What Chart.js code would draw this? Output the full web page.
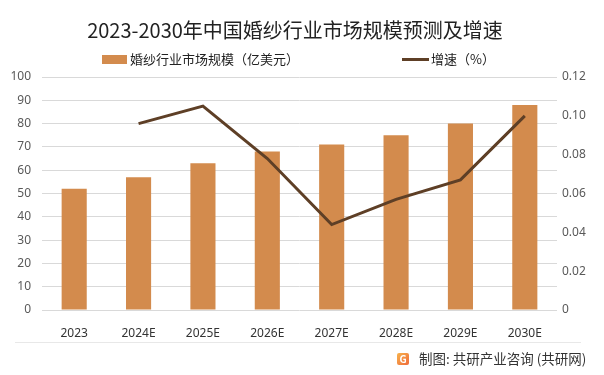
<!DOCTYPE html>
<html>
<head>
<meta charset="utf-8">
<script src="https://cdn.jsdelivr.net/npm/chart.js@4.4.1/dist/chart.umd.min.js"></script>
<style>
  html, body { margin: 0; padding: 0; background: #fff; }
  #wrap { position: relative; width: 604px; height: 375px; overflow: hidden;
          font-family: "Noto Sans CJK SC", "Noto Sans", sans-serif; }
  #chart { position: absolute; left: 0; top: 0; }
  .title { position: absolute; left: 0; width: 590px; top: 16px; text-align: center;
           font-size: 20px; color: #222; line-height: 28px; }
  .legend { position: absolute; top: 50px; font-size: 13px; color: #222; line-height: 18px;
            white-space: nowrap; }
  .legend span.box { display: inline-block; width: 25px; height: 9px; background: #D38B4D;
                     vertical-align: middle; margin-right: 3px; position: relative; top: -1px; }
  .legend span.ln { display: inline-block; width: 27px; height: 3px; background: #5E3F26;
                    vertical-align: middle; margin-right: 2px; position: relative; top: -1px; }
  .rule { position: absolute; left: 15px; width: 566px; top: 342px; height: 1px; background: #e8e8e8; }
  .foot { position: absolute; left: 397px; top: 348px; font-size: 13.5px; color: #333;
          line-height: 20px; white-space: nowrap; }
  .foot .ico { display: inline-block; width: 12px; height: 12px; border-radius: 2px;
               background: linear-gradient(135deg, #f7b34d, #ef6a3a); color: #fff;
               font-size: 10px; line-height: 12px; text-align: center; font-weight: bold;
               vertical-align: middle; margin-right: 10px; position: relative; top: -1px; }
</style>
</head>
<body>
<div id="wrap">
  <canvas id="chart" width="604" height="375"></canvas>
  <div class="title">2023-2030年中国婚纱行业市场规模预测及增速</div>
  <div class="legend" style="left:102px"><span class="box"></span>婚纱行业市场规模（亿美元）</div>
  <div class="legend" style="left:402px"><span class="ln"></span>增速（%）</div>
  <div class="rule"></div>
  <div class="foot"><span class="ico">G</span>制图: 共研产业咨询 (共研网)</div>
</div>
<script>
var years = ["2023", "2024E", "2025E", "2026E", "2027E", "2028E", "2029E", "2030E"];
var marketSize = [52, 57, 63, 68, 71, 75, 80, 88];
var growth = [null, 0.096, 0.105, 0.078, 0.044, 0.057, 0.067, 0.1];

var tickFont = { family: "'Noto Sans', sans-serif", size: 12 };

var ctx = document.getElementById("chart");

new Chart(ctx, {
  type: "bar",
  data: {
    labels: years,
    datasets: [
      {
        type: "line",
        label: "增速（%）",
        data: growth,
        yAxisID: "y1",
        borderColor: "#5E3F26",
        borderWidth: 3,
        pointRadius: 0,
        tension: 0,
        order: 0
      },
      {
        label: "婚纱行业市场规模（亿美元）",
        data: marketSize,
        yAxisID: "y",
        backgroundColor: "#D38B4D",
        categoryPercentage: 1,
        barPercentage: 0.39,
        order: 1
      }
    ]
  },
  options: {
    responsive: false,
    animation: false,
    layout: { padding: { top: 77, bottom: 35, left: 0, right: 0 } },
    plugins: {
      legend: { display: false },
      tooltip: { enabled: false }
    },
    scales: {
      x: {
        grid: { display: false },
        border: { display: false },
        ticks: { color: "#333", font: tickFont, padding: 8, maxRotation: 0 },
        afterFit: function (s) { s.height = 30; }
      },
      y: {
        position: "left",
        min: 0,
        max: 100,
        ticks: { stepSize: 10, color: "#595959", font: tickFont, padding: 11 },
        grid: { color: "#d9d9d9", drawTicks: false },
        border: { display: false },
        afterFit: function (s) { s.width = 42; }
      },
      y1: {
        position: "right",
        min: 0,
        max: 0.12,
        ticks: { stepSize: 0.02, color: "#595959", font: tickFont, padding: 5 },
        grid: { display: false, drawTicks: false },
        border: { display: false },
        afterFit: function (s) { s.width = 47; }
      }
    }
  }
});
</script>
</body>
</html>
